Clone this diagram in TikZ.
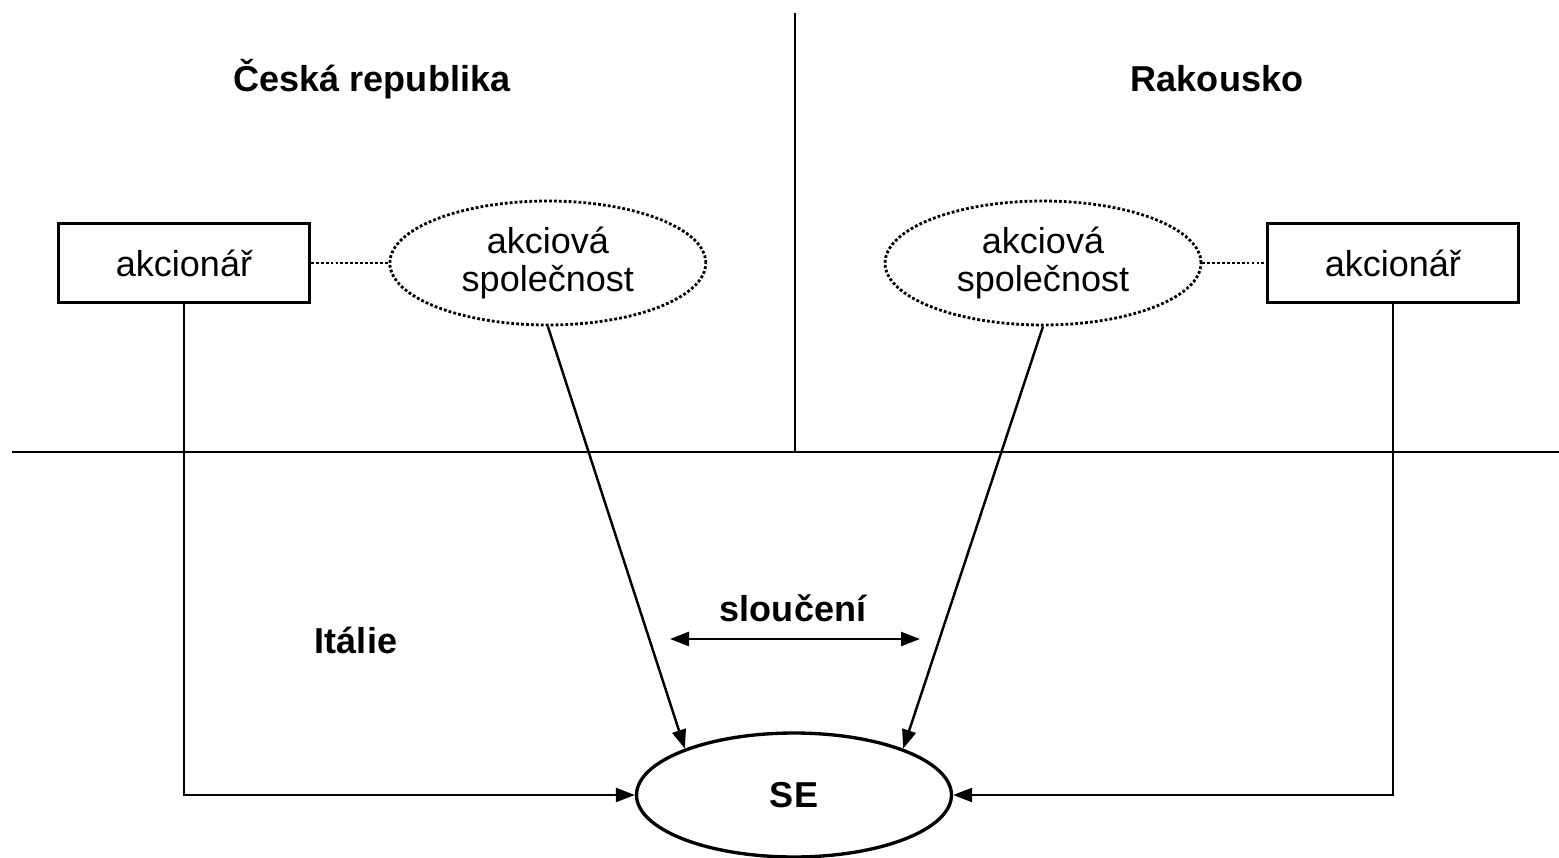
\documentclass[tikz,border=0pt]{standalone}
\usepackage{fontspec}
\setmainfont{Liberation Sans}
\usepackage{tikz}
\usetikzlibrary{arrows.meta}
\usetikzlibrary{shapes.geometric}
\usetikzlibrary{positioning}
\tikzset{>={Triangle[length=0.38cm,width=0.28cm]}}
\tikzset{
    txt/.style={font=\fontsize{20.5}{21.8}\selectfont},
    region/.style={font=\fontsize{20.5}{21.5}\selectfont\bfseries},
    holder/.style={txt, draw, line width=1.7pt, minimum width=5.02cm, minimum height=1.58cm},
    company/.style={txt, draw, ellipse, line width=1.6pt, dash pattern=on 1.6pt off 1.2pt,
        minimum width=6.32cm, minimum height=2.48cm, align=center, inner sep=0pt},
    border/.style={line width=1.6pt},
    flow/.style={->, line width=1.4pt},
}

\begin{document}
\begin{tikzpicture}[x=0.02cm, y=-0.02cm]
            \useasboundingbox (0,0) rectangle (1559,858);
            % borders between the countries
            \coordinate (Vtop) at (795,13);
            \coordinate (Vbase) at (795,452);
            \coordinate (Hleft) at (12,452);
            \coordinate (Hright) at (1559,452);
            \draw [border] (Vtop)--(Vbase);
            \draw [border] (Hleft)--(Hright);
            \node [region] (CZlabel) at (372,79) {Česká republika};
            \node [region] (ATlabel) at (1217,79) {Rakousko};
            \node [region] (ITlabel) at (356,640) {Itálie};
            % shareholders and companies
            \node [holder] (CZholder) at (184,263) {akcionář};
            \node [company, right=1.55cm of CZholder] (CZcompany) {akciová\\společnost};
            \node [company] (ATcompany) at (1043,263) {akciová\\společnost};
            \node [holder, right=1.27cm of ATcompany] (ATholder) {akcionář};
            \draw [line width=1.6pt, dash pattern=on 1.6pt off 1.2pt] (CZholder)--(CZcompany);
            \draw [line width=1.6pt, dash pattern=on 1.6pt off 1.2pt] (ATcompany)--(ATholder);
            % the new company
            \node [region, draw, ellipse, line width=1.9pt, minimum width=6.3cm, minimum height=2.48cm] (SE) at (794,795) {SE};
            \draw [flow] (CZcompany.south)--(SE.157);
            \draw [flow] (ATcompany.south)--(SE.23);
            \draw [flow] (CZholder.south) |- (SE.west);
            \draw [flow] (ATholder.south) |- (SE.east);
            \node [region] (mergeLabel) at (793,608) {sloučení};
            \coordinate (mergeL) at (670,639);
            \coordinate (mergeR) at (920,639);
            \draw [flow, <->] (mergeL)--(mergeR);
        \end{tikzpicture}
\end{document}
